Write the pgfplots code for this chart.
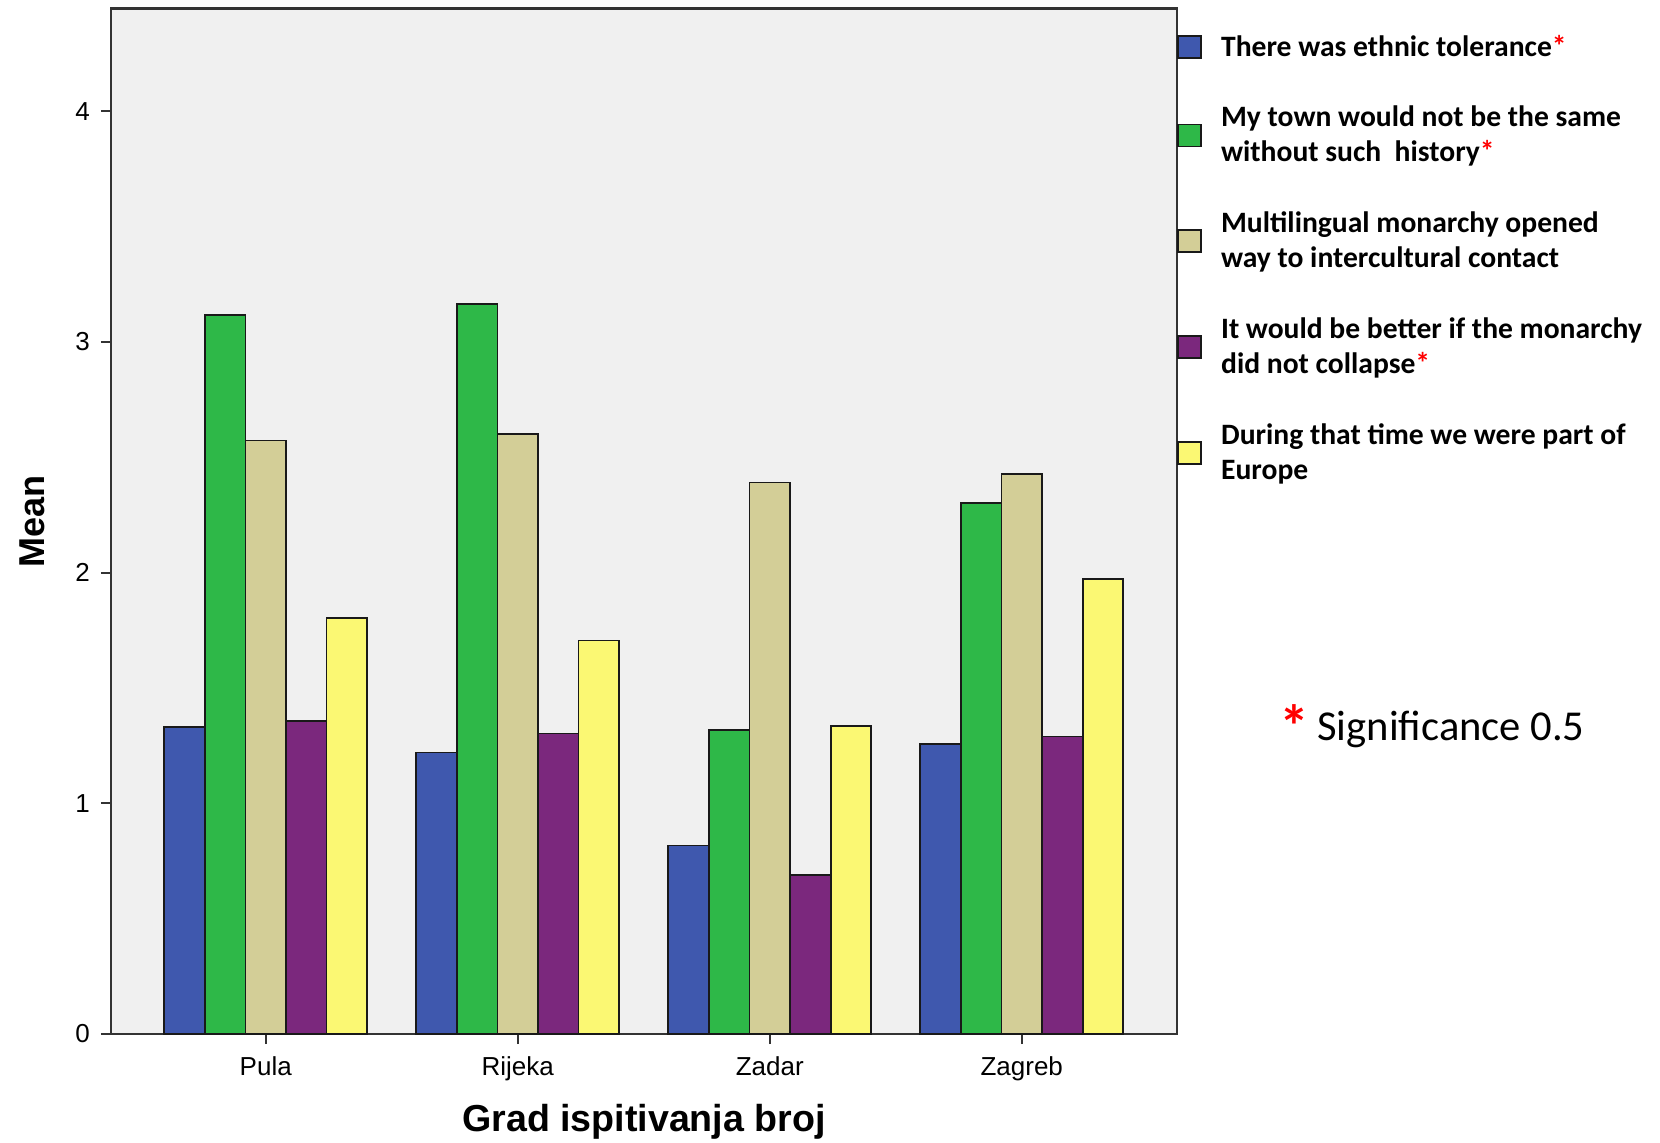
\documentclass[border=0pt]{standalone}
\usepackage{fontspec}
\usepackage{pgfplots}
\pgfplotsset{compat=1.18}
\setmainfont{Carlito}
\newfontfamily\arialfont{Liberation Sans}
\definecolor{cblue}{HTML}{3F58AE}
\definecolor{cgreen}{HTML}{2EB848}
\definecolor{ctan}{HTML}{D3CE97}
\definecolor{cpurple}{HTML}{7B287D}
\definecolor{cyellow}{HTML}{FBF873}
\definecolor{bgc}{HTML}{F0F0F0}
\begin{document}
\begin{tikzpicture}
\useasboundingbox (0,0) rectangle (830pt,571pt);
\begin{axis}[
  at={(55.5pt,54pt)}, anchor=south west,
  scale only axis, width=533pt, height=512.75pt,
  xmin=-0.614, xmax=3.616, ymin=0, ymax=4.445,
  ybar=0pt, bar width=20.3pt,
  xtick={0,1,2,3}, xticklabels={Pula,Rijeka,Zadar,Zagreb},
  ytick={0,1,2,3,4},
  tick align=outside, tick pos=left, major tick length=5pt,
  axis background/.style={fill=bgc},
  axis line style={line width=1.2pt, draw=black!80},
  tick style={line width=1pt, draw=black!80},
  ticklabel style={font=\arialfont\fontsize{13}{15}\selectfont},
  xticklabel style={yshift=-3pt},
  yticklabel style={xshift=-2pt},
  /pgf/number format/assume math mode=true,
  xlabel={Grad ispitivanja broj},
  ylabel={Mean},
  xlabel style={font=\arialfont\bfseries\fontsize{18.8}{20}\selectfont, at={(axis description cs:0.5,-0.0858)}, anchor=center},
  ylabel style={font=\arialfont\bfseries\fontsize{18}{20}\selectfont, at={(axis description cs:-0.0741,0.5)}, anchor=center},
  every axis plot/.append style={draw=black!90, line width=0.85pt},
  legend style={at={(1,1)}, anchor=north west, yshift=-13pt, draw=none, fill=none, inner sep=0pt,
    row sep=23.5pt, column sep=9.5pt,
    font=\bfseries\fontsize{14.8}{17.5}\selectfont,
    nodes={align=left, inner sep=0pt}},
  legend cell align=left,
  legend image code/.code={\draw[#1, line width=0.85pt] (0pt,-5.5pt) rectangle (11.5pt,5.5pt);},
]
\addplot[fill=cblue] coordinates {(0,1.33) (1,1.22) (2,0.817) (3,1.257)};
\addplot[fill=cgreen] coordinates {(0,3.115) (1,3.165) (2,1.317) (3,2.303)};
\addplot[fill=ctan] coordinates {(0,2.573) (1,2.60) (2,2.39) (3,2.427)};
\addplot[fill=cpurple] coordinates {(0,1.358) (1,1.303) (2,0.688) (3,1.289)};
\addplot[fill=cyellow] coordinates {(0,1.803) (1,1.706) (2,1.335) (3,1.972)};
\addlegendentry{There was ethnic tolerance\textcolor{red}{*}}
\addlegendentry{My town would not be the same\\without such\ \ history\textcolor{red}{*}}
\addlegendentry{Multilingual monarchy opened\\way to intercultural contact}
\addlegendentry{It would be better if the monarchy\\did not collapse\textcolor{red}{*}}
\addlegendentry{During that time we were part of\\Europe}
\end{axis}
\node[anchor=base west, font=\fontsize{21.3}{26}\selectfont, inner sep=0pt] at (639.5pt,200.5pt)
  {\raisebox{-3pt}{\textcolor{red}{\bfseries\fontsize{30}{32}\selectfont *}}\hspace{4pt}Significance 0.5};
\end{tikzpicture}
\end{document}
